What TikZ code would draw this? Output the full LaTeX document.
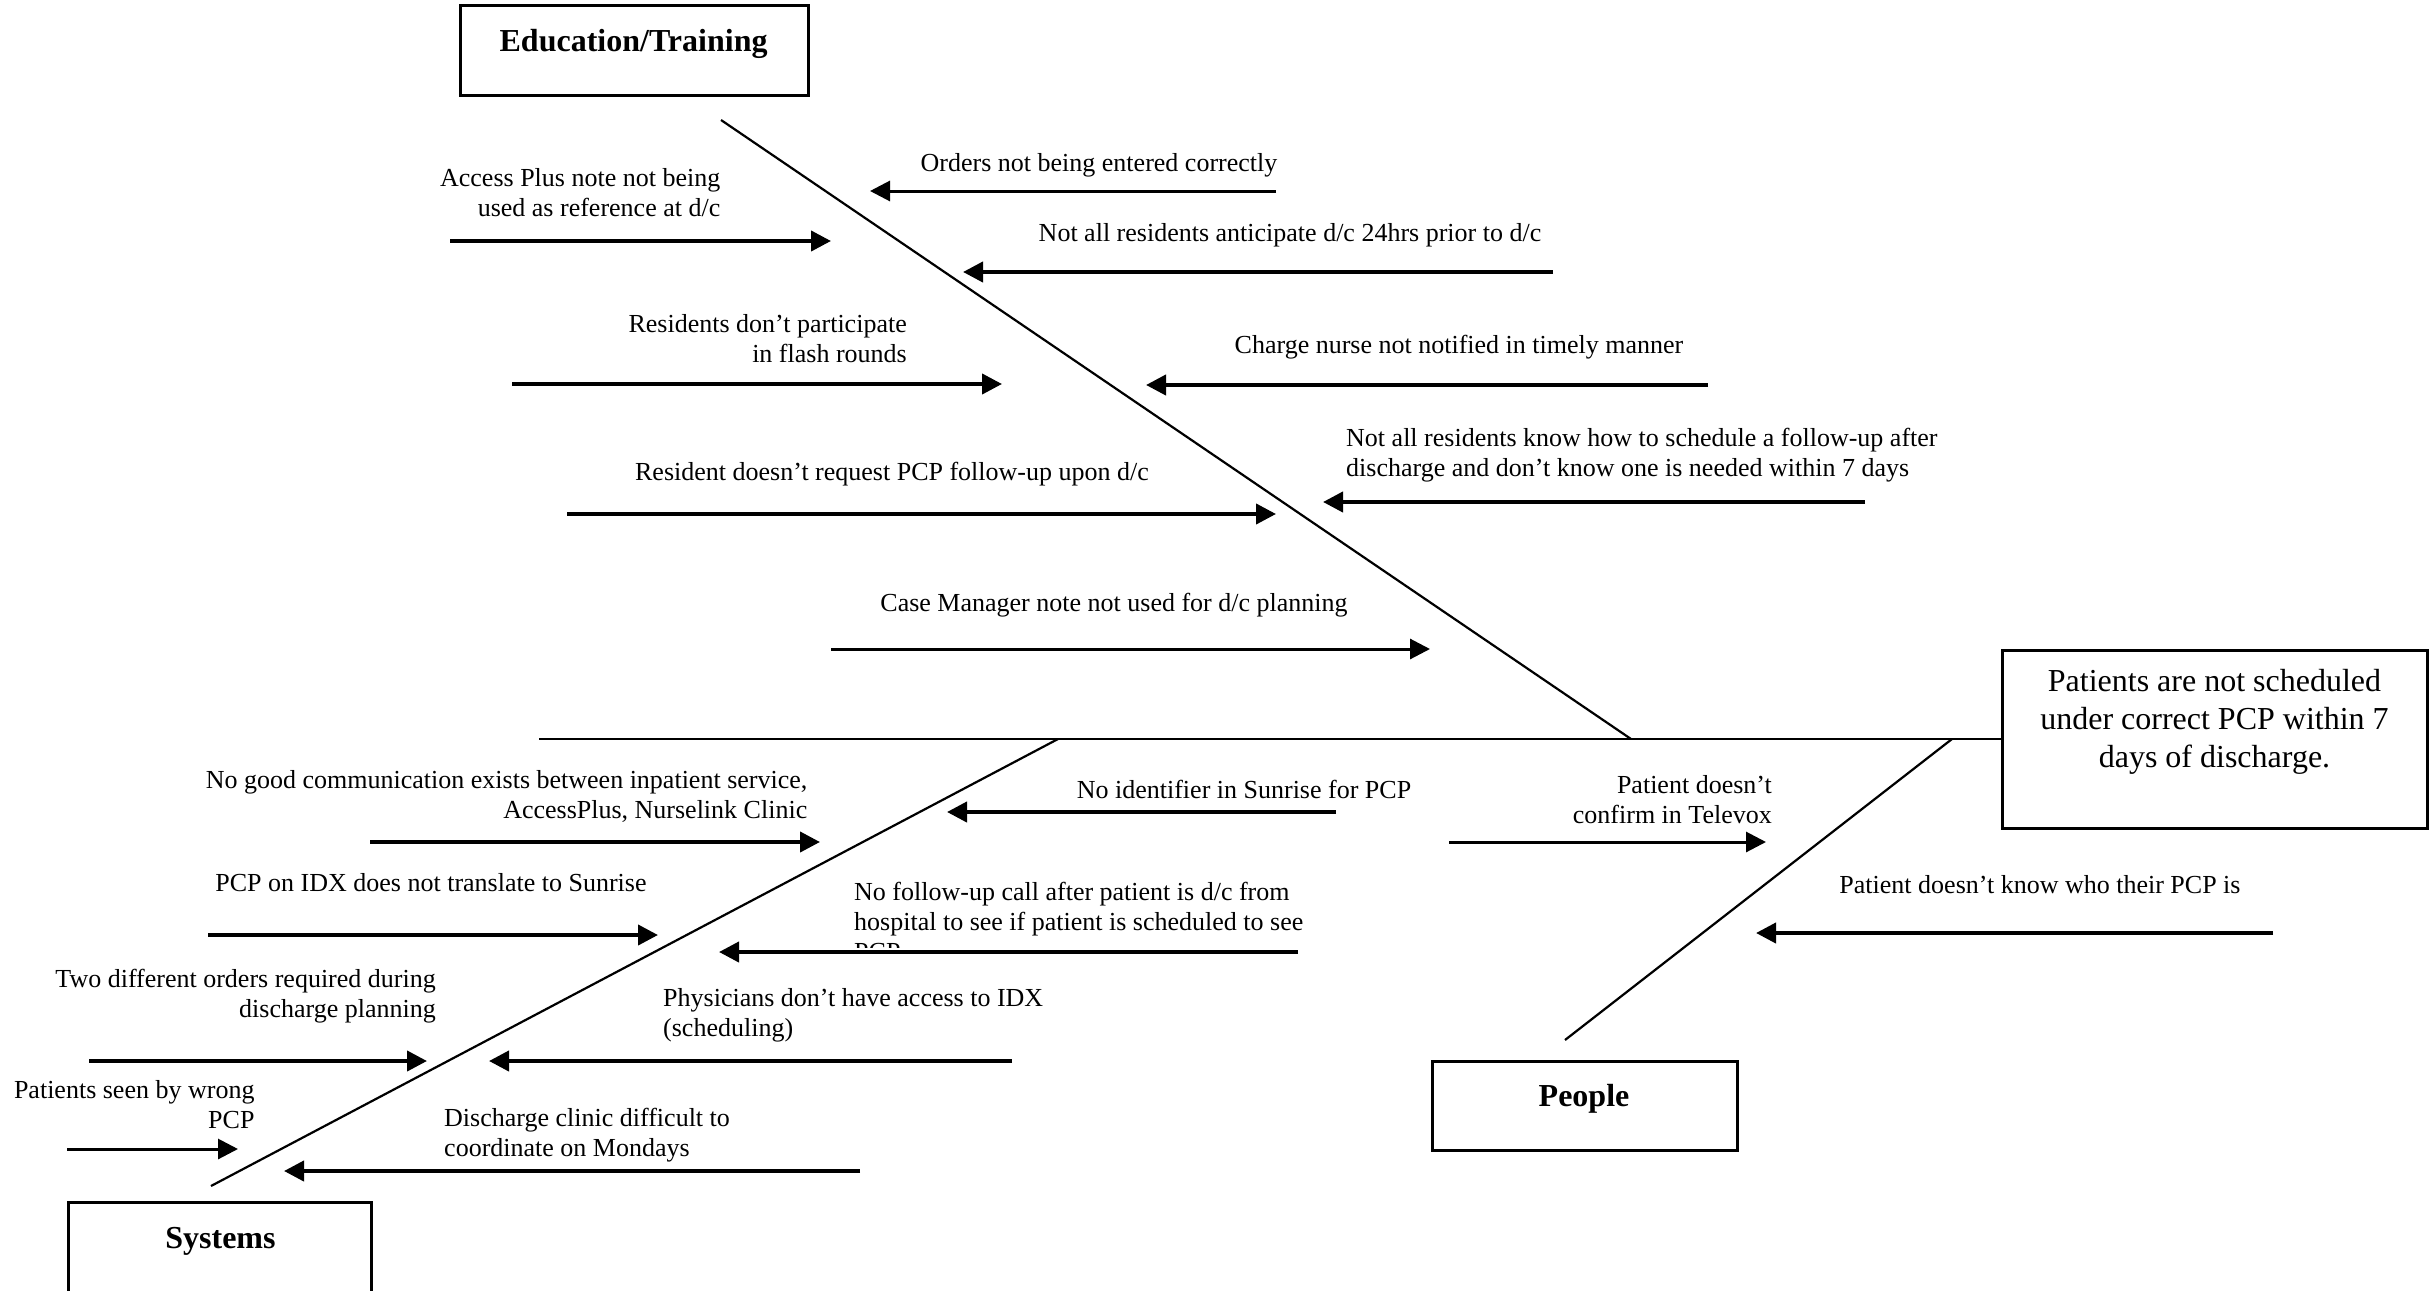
\documentclass[tikz,border=0pt]{standalone}
\usepackage{fontspec}
\setmainfont{Liberation Serif}
\usetikzlibrary{arrows.meta}
\begin{document}
\begin{tikzpicture}[x=1pt,y=-1pt,
  lbl/.style={font=\fontsize{26}{30}\selectfont, inner sep=0pt, yshift=-2.5pt},
  lblr/.style={lbl, align=right},
  lbll/.style={lbl, align=left},
  ttl/.style={font=\fontsize{32}{38}\selectfont\bfseries, inner sep=0pt, yshift=-4pt},
  efftxt/.style={font=\fontsize{32}{38}\selectfont, inner sep=0pt, align=center, yshift=-4pt},
  catbox/.style={draw, line width=3pt, inner sep=0pt, fill=none},
  spine/.style={line width=2.6pt},
  diag/.style={line width=2.2pt},
  arr/.style={line width=4pt, -{Triangle[length=20pt,width=20pt]}},
  arrthin/.style={line width=3pt, -{Triangle[length=20pt,width=20pt]}},
]
\useasboundingbox (0,0) rectangle (2435,1290);
\clip (0,0) rectangle (2435,1290);

% boxes
\node[catbox, minimum width=348pt, minimum height=89pt] (edu) at (634,50.5) {};
\node[ttl] (edut) at (633.6,40.4) {Education/Training};
\node[catbox, minimum width=425pt, minimum height=178pt] (effect) at (2214.5,739) {};
\node[efftxt] (efft) at (2214.5,717.5) {Patients are not scheduled\\under correct PCP within 7\\days of discharge.};
\node[catbox, minimum width=305pt, minimum height=89pt] (people) at (1584.5,1105.5) {};
\node[ttl] (peoplet) at (1584,1095) {People};
\node[catbox, minimum width=303pt, minimum height=150pt] (sys) at (219.5,1277) {};
\node[ttl] (syst) at (220.5,1237.7) {Systems};

% skeleton
\coordinate (spineL) at (539,739);
\draw[spine] (spineL) -- (effect.west);
\coordinate (eduA) at (721,120);
\coordinate (eduB) at (1631,739);
\draw[diag] (eduA) -- (eduB);
\coordinate (sysA) at (1058,739);
\coordinate (sysB) at (211,1186);
\draw[diag] (sysA) -- (sysB);
\coordinate (pplA) at (1952,739);
\coordinate (pplB) at (1565,1040);
\draw[diag] (pplA) -- (pplB);

% Education/Training causes
\node[lbl] (t1) at (1099,163) {Orders not being entered correctly};
\coordinate (a1s) at (1276,191); \coordinate (a1e) at (870,191);
\draw[arrthin] (a1s) -- (a1e);

\node[lblr, anchor=east] (t2) at (720.5,190) {Access Plus note not being\\used as reference at d/c};
\coordinate (a2s) at (450,241); \coordinate (a2e) at (831,241);
\draw[arr] (a2s) -- (a2e);

\node[lbl] (t3) at (1290,233) {Not all residents anticipate d/c 24hrs prior to d/c};
\coordinate (a3s) at (1553,272); \coordinate (a3e) at (963,272);
\draw[arr] (a3s) -- (a3e);

\node[lblr, anchor=east] (t4) at (907,336) {Residents don’t participate\\in flash rounds};
\coordinate (a4s) at (512,384); \coordinate (a4e) at (1002,384);
\draw[arr] (a4s) -- (a4e);

\node[lbl] (t5) at (1459,345) {Charge nurse not notified in timely manner};
\coordinate (a5s) at (1708,385); \coordinate (a5e) at (1146,385);
\draw[arr] (a5s) -- (a5e);

\node[lbll, anchor=west] (t6) at (1346,453) {Not all residents know how to schedule a follow-up after\\discharge and don’t know one is needed within 7 days};
\coordinate (a6s) at (1865,502); \coordinate (a6e) at (1323,502);
\draw[arr] (a6s) -- (a6e);

\node[lbl] (t7) at (892,472) {Resident doesn’t request PCP follow-up upon d/c};
\coordinate (a7s) at (567,514); \coordinate (a7e) at (1276,514);
\draw[arr] (a7s) -- (a7e);

\node[lbl] (t8) at (1114,602.5) {Case Manager note not used for d/c planning};
\coordinate (a8s) at (831,649); \coordinate (a8e) at (1430,649);
\draw[arrthin] (a8s) -- (a8e);

% Systems causes
\node[lblr, anchor=east] (t9) at (807.5,793.5) {No good communication exists between inpatient service,\\AccessPlus, Nurselink Clinic};
\coordinate (a9s) at (370,842); \coordinate (a9e) at (820,842);
\draw[arr] (a9s) -- (a9e);

\node[lbl] (t10) at (1244,787) {No identifier in Sunrise for PCP};
\coordinate (a10s) at (1336,812); \coordinate (a10e) at (947,812);
\draw[arr] (a10s) -- (a10e);

\node[lbl] (t11) at (431,880.5) {PCP on IDX does not translate to Sunrise};
\coordinate (a11s) at (208,935); \coordinate (a11e) at (658,935);
\draw[arr] (a11s) -- (a11e);

\begin{scope}
\clip (840,860) rectangle (1360,947);
\node[lbll, anchor=west] (t12) at (854,919) {No follow-up call after patient is d/c from\\hospital to see if patient is scheduled to see\\PCP};
\end{scope}
\coordinate (a12s) at (1298,952); \coordinate (a12e) at (719,952);
\draw[arr] (a12s) -- (a12e);

\node[lblr, anchor=east] (t13) at (436,994) {Two different orders required during\\discharge planning};
\coordinate (a13s) at (89,1061); \coordinate (a13e) at (427,1061);
\draw[arr] (a13s) -- (a13e);

\node[lbll, anchor=west] (t14) at (663,1012.5) {Physicians don’t have access to IDX\\(scheduling)};
\coordinate (a14s) at (1012,1061); \coordinate (a14e) at (489,1061);
\draw[arr] (a14s) -- (a14e);

\node[lblr, anchor=east] (t15) at (254.7,1102) {Patients seen by wrong\\PCP};
\coordinate (a15s) at (67,1149); \coordinate (a15e) at (238,1149);
\draw[arrthin] (a15s) -- (a15e);

\node[lbll, anchor=west] (t16) at (444,1133) {Discharge clinic difficult to\\coordinate on Mondays};
\coordinate (a16s) at (860,1171); \coordinate (a16e) at (284,1171);
\draw[arr] (a16s) -- (a16e);

% People causes
\node[lblr, anchor=east] (t17) at (1772,797) {Patient doesn’t\\confirm in Televox};
\coordinate (a17s) at (1449,842); \coordinate (a17e) at (1766,842);
\draw[arrthin] (a17s) -- (a17e);

\node[lbl] (t18) at (2040,882) {Patient doesn’t know who their PCP is};
\coordinate (a18s) at (2273,933); \coordinate (a18e) at (1756,933);
\draw[arr] (a18s) -- (a18e);
\end{tikzpicture}
\end{document}
